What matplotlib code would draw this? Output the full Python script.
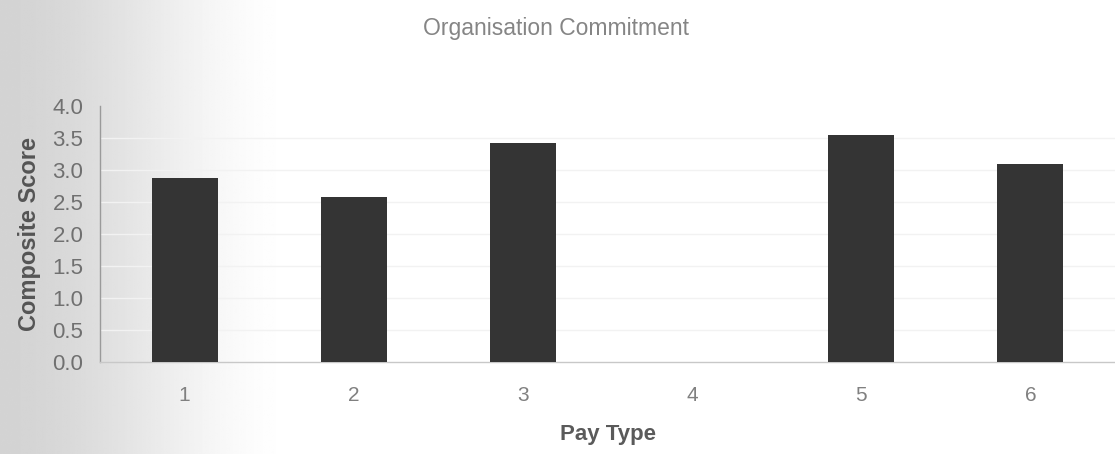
import numpy as np
import matplotlib
matplotlib.use("Agg")
import matplotlib.pyplot as plt

categories = ["1", "2", "3", "4", "5", "6"]
scores = [2.88, 2.58, 3.42, 0.0, 3.55, 3.10]
yticks = [0.0, 0.5, 1.0, 1.5, 2.0, 2.5, 3.0, 3.5, 4.0]

plt.rcParams['font.family'] = ['Liberation Sans', 'DejaVu Sans']

W, H = 1115, 454
fig = plt.figure(figsize=(W / 100, H / 100), dpi=100)

# scanned-paper shading on the left
bg = fig.add_axes([0, 0, 1, 1], zorder=-10)
xs = np.linspace(0, 1, 600)
t = np.clip(xs / 0.27, 0, 1)
smooth = t * t * (3 - 2 * t)
shade = 0.83 + 0.17 * smooth
grad = np.tile(shade, (50, 1))
bg.imshow(grad, cmap='gray', vmin=0, vmax=1, aspect='auto', extent=[0, 1, 0, 1],
          interpolation='bilinear')
bg.set_axis_off()

ax = fig.add_axes([100 / W, (H - 362) / H, 1 - 100 / W, (362 - 106) / H])
ax.set_facecolor('none')

x = np.arange(1, len(categories) + 1)
ax.bar(x, scores, width=0.39, color='#343434', linewidth=0, zorder=3)

ax.set_xlim(0.5, 6.5)
ax.set_ylim(0, 4.0)
ax.set_yticks(yticks)
ax.set_yticklabels([f"{v:.1f}" for v in yticks])
ax.set_xticks(x)
ax.set_xticklabels(categories)

for v in yticks[1:-1]:
    ax.axhline(v, color='#f2f2f2', lw=1.0, zorder=1)

for s in ['top', 'right']:
    ax.spines[s].set_visible(False)
ax.spines['left'].set_color('#9a9a9a')
ax.spines['left'].set_linewidth(1.0)
ax.spines['bottom'].set_color('#c8c8c8')
ax.spines['bottom'].set_linewidth(1.0)

ax.tick_params(axis='y', length=0, pad=12, labelsize=16, labelcolor='#707070')
ax.tick_params(axis='x', length=0, pad=17, labelsize=15, labelcolor='#808080')

ax.set_xlabel("Pay Type", fontsize=16, fontweight='bold', color='#5a5a5a', labelpad=14)
ax.set_ylabel("Composite Score", fontsize=17, fontweight='bold', color='#555555', labelpad=8)

fig.text(556 / W, 1 - 28 / H, "Organisation Commitment", ha='center', va='center',
         fontsize=16.5, color='#858585')

fig.savefig("out.png", dpi=100)
